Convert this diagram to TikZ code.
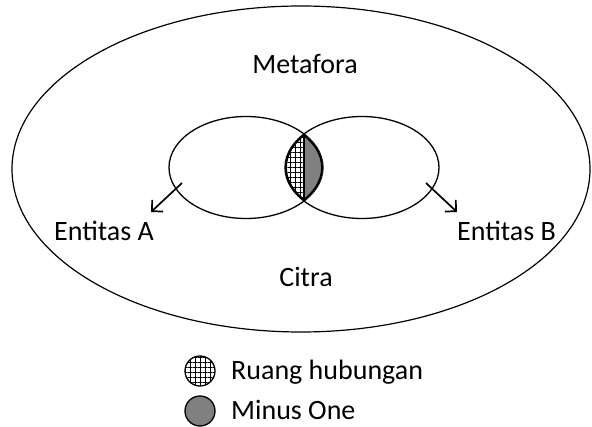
\documentclass[tikz,border=0pt]{standalone}
\usepackage{fontspec}
\setmainfont{Carlito}
\usetikzlibrary{shapes.geometric,arrows.meta,patterns.meta}
\begin{document}
\begin{tikzpicture}[x=1pt,y=-1pt,
  lbl/.style={font=\fontsize{28}{34}\selectfont, inner sep=0pt},
  ring/.style={draw, line width=1.3pt, ellipse, inner sep=0pt},
  hatchfill/.style={pattern={Hatch[angle=0,distance=5pt,line width=0.9pt]}},
  greyfill/.style={fill=black!50},
  lensline/.style={draw, line width=1.9pt, line join=round},
  arr/.style={line width=1.7pt, -{Straight Barb[length=8pt,width=16pt,line width=1.7pt]}}]
\useasboundingbox (0,0) rectangle (592,427);
% outer ellipse
\node[ring, line width=1.2pt, minimum width=578pt, minimum height=326pt] (outer) at (301,169) {};
% inner ellipses
\node[ring, minimum width=154pt, minimum height=102pt] (ea) at (246,167.5) {};
\node[ring, minimum width=154pt, minimum height=102pt] (eb) at (362,167.5) {};
% lens = intersection of the two ellipses
\coordinate (T) at (304,134);
\coordinate (B) at (304,201);
\begin{scope}
  \clip (ea.center) ellipse [x radius=77, y radius=51];
  \clip (eb.center) ellipse [x radius=77, y radius=51];
  \path[hatchfill] (200,100) rectangle (304,240);
  \path[greyfill] (304,100) rectangle (400,240);
  \draw[line width=3.8pt] (ea.center) ellipse [x radius=77, y radius=51];
  \draw[line width=3.8pt] (eb.center) ellipse [x radius=77, y radius=51];
\end{scope}
\draw[line width=1.9pt] (T) -- (B);
% labels
\node[lbl, anchor=base] (meta) at (305,74) {Metafora};
\node[lbl, anchor=base] (citra) at (306,287) {Citra};
\node[lbl, anchor=base west] (entA) at (54,241) {Entitas A};
\node[lbl, anchor=base west] (entB) at (457,241) {Entitas B};
% arrows
\coordinate (a0) at (182,183);
\coordinate (a1) at (151,212);
\coordinate (b0) at (426,183);
\coordinate (b1) at (457,212);
\draw[arr] (a0) -- (a1);
\draw[arr] (b0) -- (b1);
% legend
\node[circle, draw, line width=1.3pt, minimum size=30pt, inner sep=0pt, hatchfill] (leg1) at (200,371) {};
\node[circle, draw, line width=1.3pt, minimum size=30pt, inner sep=0pt, greyfill] (leg2) at (200,411) {};
\node[lbl, anchor=base west] (t1) at (231,380) {Ruang hubungan};
\node[lbl, anchor=base west] (t2) at (231,420) {Minus One};
\end{tikzpicture}
\end{document}
